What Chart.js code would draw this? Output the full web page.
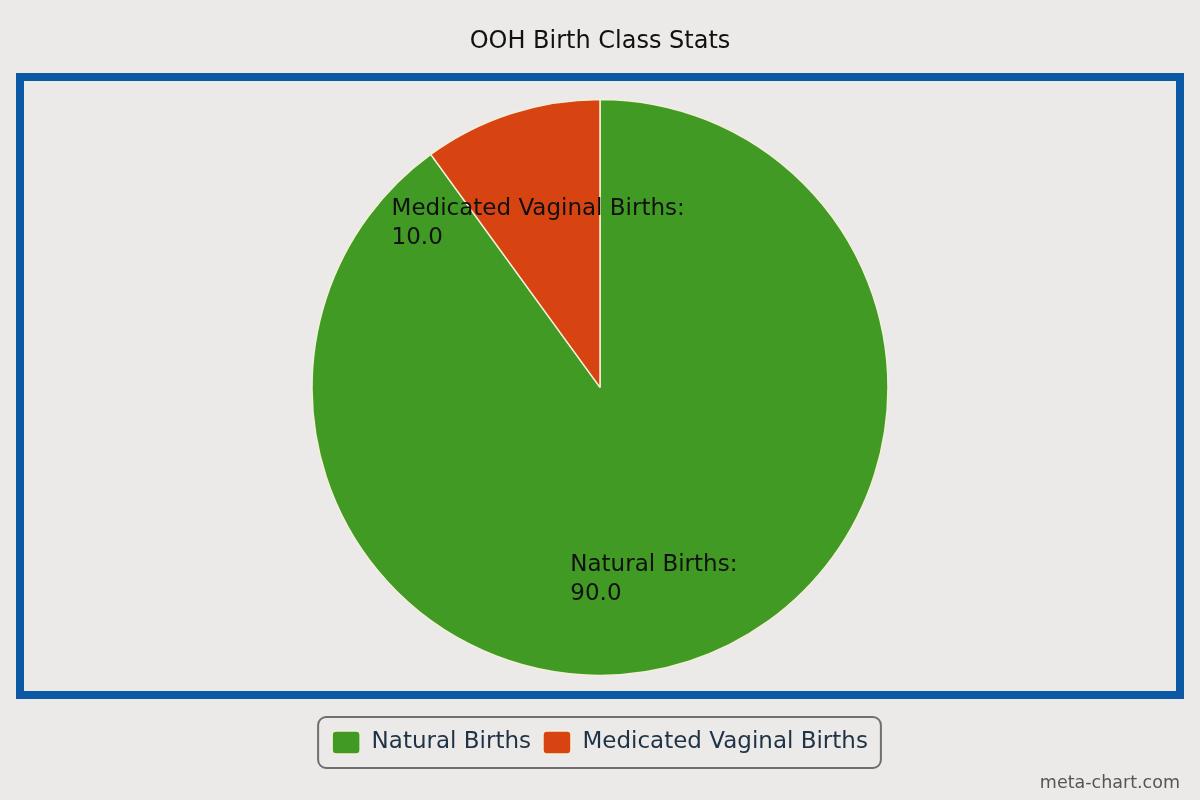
<!DOCTYPE html>
<html lang="en">
<head>
    <meta charset="UTF-8">
    <title>OOH Birth Class Stats</title>
    <script src="https://cdn.jsdelivr.net/npm/chart.js"></script>
    <style>
        body {
            margin: 0;
            background-color: #ebeae8;
            font-family: "DejaVu Sans", sans-serif;
        }

        .wrap {
            position: relative;
            width: 1200px;
            height: 800px;
        }

        .credit {
            position: absolute;
            right: 20px;
            top: 772px;
            font-size: 17.5px;
            color: #555;
        }
    </style>
</head>
<body>
    <div class="wrap">
        <canvas id="pie"></canvas>
        <div class="credit">meta-chart.com</div>
    </div>

    <script>
        const categories = ["Natural Births", "Medicated Vaginal Births"];
        const values = [90.0, 10.0];
        const sliceColors = ["#419a24", "#d84312"];

        // blue frame around the plot + rounded box around legend
        const framePlugin = {
            id: "frame",
            beforeDraw(chart) {
                const ctx = chart.ctx;
                ctx.save();
                ctx.strokeStyle = "#0b59a5";
                ctx.lineWidth = 8;
                ctx.strokeRect(20, 77, 1160, 618);
                ctx.restore();
            },
            afterDraw(chart) {
                const boxes = chart.legend.legendHitBoxes;
                if (!boxes || !boxes.length) return;
                const left = Math.min(...boxes.map(b => b.left)) - 14;
                const right = Math.max(...boxes.map(b => b.left + b.width)) + 13;
                const top = Math.min(...boxes.map(b => b.top)) - 14;
                const bottom = Math.max(...boxes.map(b => b.top + b.height)) + 14;
                const ctx = chart.ctx;
                ctx.save();
                ctx.strokeStyle = "#6f6f6f";
                ctx.lineWidth = 2;
                ctx.beginPath();
                ctx.roundRect(left, top, right - left, bottom - top, 8);
                ctx.stroke();
                ctx.restore();
            }
        };

        // "Label:\nvalue" text inside each slice
        const sliceLabels = {
            id: "sliceLabels",
            afterDatasetsDraw(chart) {
                const ctx = chart.ctx;
                const meta = chart.getDatasetMeta(0);
                ctx.save();
                ctx.font = "23px 'DejaVu Sans'";
                ctx.fillStyle = "#111";
                ctx.textBaseline = "middle";
                ctx.textAlign = "left";
                meta.data.forEach((arc, i) => {
                    const p = arc.getProps(["x", "y", "startAngle", "endAngle", "outerRadius"], true);
                    const mid = (p.startAngle + p.endAngle) / 2;
                    const r = p.outerRadius * 0.65;
                    const cx = p.x + Math.cos(mid) * r;
                    const cy = p.y + Math.sin(mid) * r;
                    const lines = [categories[i] + ":", values[i].toFixed(1)];
                    const w = Math.max(...lines.map(l => ctx.measureText(l).width));
                    lines.forEach((l, k) => ctx.fillText(l, cx - w / 2 - 4, cy + k * 29));
                });
                ctx.restore();
            }
        };

        new Chart(document.getElementById("pie"), {
            type: "pie",
            data: {
                labels: categories,
                datasets: [{
                    data: values,
                    backgroundColor: sliceColors,
                    borderColor: "#f3efd9",
                    borderWidth: 1.5,
                    radius: 288
                }]
            },
            options: {
                responsive: true,
                maintainAspectRatio: false,
                animation: false,
                layout: {
                    padding: { bottom: 36 }
                },
                plugins: {
                    title: {
                        display: true,
                        text: "OOH Birth Class Stats",
                        color: "#111",
                        font: { family: "DejaVu Sans", size: 24, weight: "normal" },
                        padding: { top: 27, bottom: 0 }
                    },
                    legend: {
                        position: "bottom",
                        labels: {
                            color: "#1f3246",
                            font: { family: "DejaVu Sans", size: 23 },
                            boxWidth: 28,
                            boxHeight: 23,
                            useBorderRadius: true,
                            borderRadius: 4,
                            padding: 12
                        }
                    },
                    tooltip: { enabled: false }
                }
            },
            plugins: [framePlugin, sliceLabels]
        });
    </script>
</body>
</html>
